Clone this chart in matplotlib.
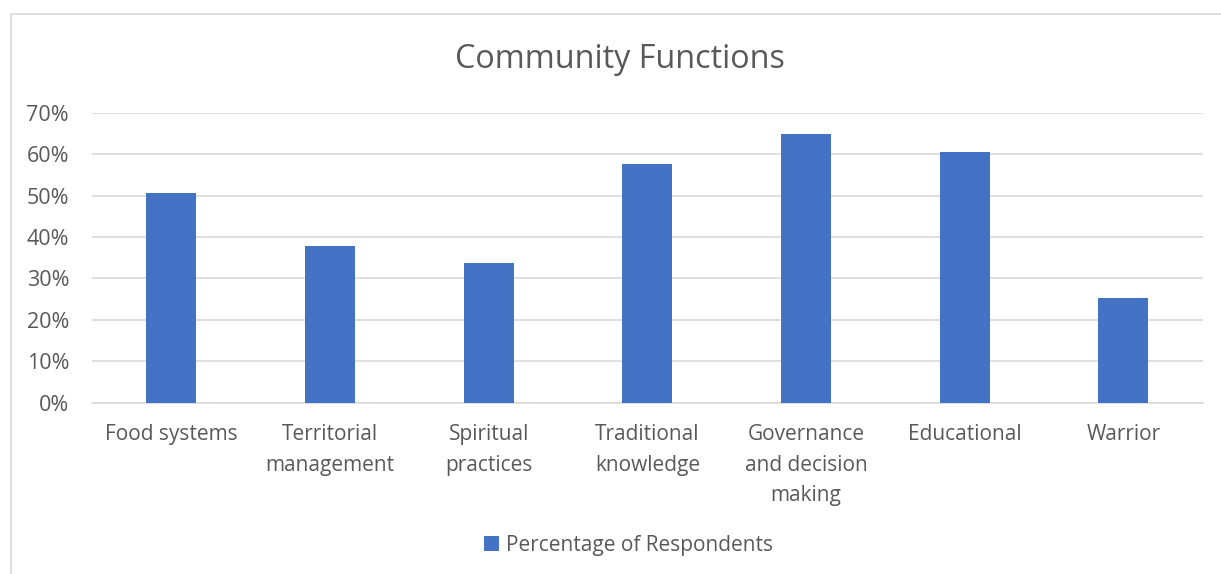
import matplotlib
matplotlib.use("Agg")
import matplotlib.pyplot as plt
from matplotlib.patches import Rectangle
from matplotlib.ticker import PercentFormatter

categories = ["Food systems", "Territorial\nmanagement", "Spiritual\npractices",
              "Traditional\nknowledge", "Governance\nand decision\nmaking",
              "Educational", "Warrior"]
values = [50.5, 37.9, 33.7, 57.7, 64.8, 60.4, 25.3]
yticks = [0, 10, 20, 30, 40, 50, 60, 70]

plt.rcParams['font.family'] = ['Open Sans', 'DejaVu Sans']
TXT = '#595959'
BLUE = '#4472C4'

fig = plt.figure(figsize=(12.21, 5.74), dpi=100)
fig.patches.append(Rectangle((11/1221, -0.1), 1.2, 1 - 14/574 + 0.1,
                             transform=fig.transFigure, fill=False,
                             edgecolor='#D9D9D9', linewidth=1.2))
ax = fig.add_axes([92/1221, 1 - 402.7/574, (1202.7 - 92)/1221, 290/574])

x = list(range(len(categories)))
ax.bar(x, values, width=0.315, color=BLUE, label="Percentage of Respondents", zorder=3)
ax.set_xlim(-0.5, len(categories) - 0.5)
ax.set_ylim(0, 70)
ax.set_yticks(yticks)
ax.yaxis.set_major_formatter(PercentFormatter(decimals=0))
ax.grid(axis='y', color='#D9D9D9', linewidth=1.2, zorder=0)
for s in ['top', 'right', 'left']:
    ax.spines[s].set_visible(False)
ax.spines['bottom'].set_color('#D9D9D9')
ax.spines['bottom'].set_linewidth(1.2)
ax.tick_params(axis='both', length=0, colors=TXT)
ax.tick_params(axis='y', pad=16.5, labelsize=15.5)
ax.tick_params(axis='x', pad=15.5, labelsize=15)
ax.set_xticks(x)
ax.set_xticklabels(categories, linespacing=1.58, va='top')

fig.text(0.508, 1 - 60/574, "Community Functions", ha='center', va='center',
         fontsize=23.3, color=TXT)

leg = fig.legend(loc='center', bbox_to_anchor=(0.515, 1 - 545/574), frameon=False,
                 fontsize=15, handlelength=0.7, handleheight=0.7, handletextpad=0.35,
                 labelcolor=TXT)

fig.savefig("out.png", dpi=100)
